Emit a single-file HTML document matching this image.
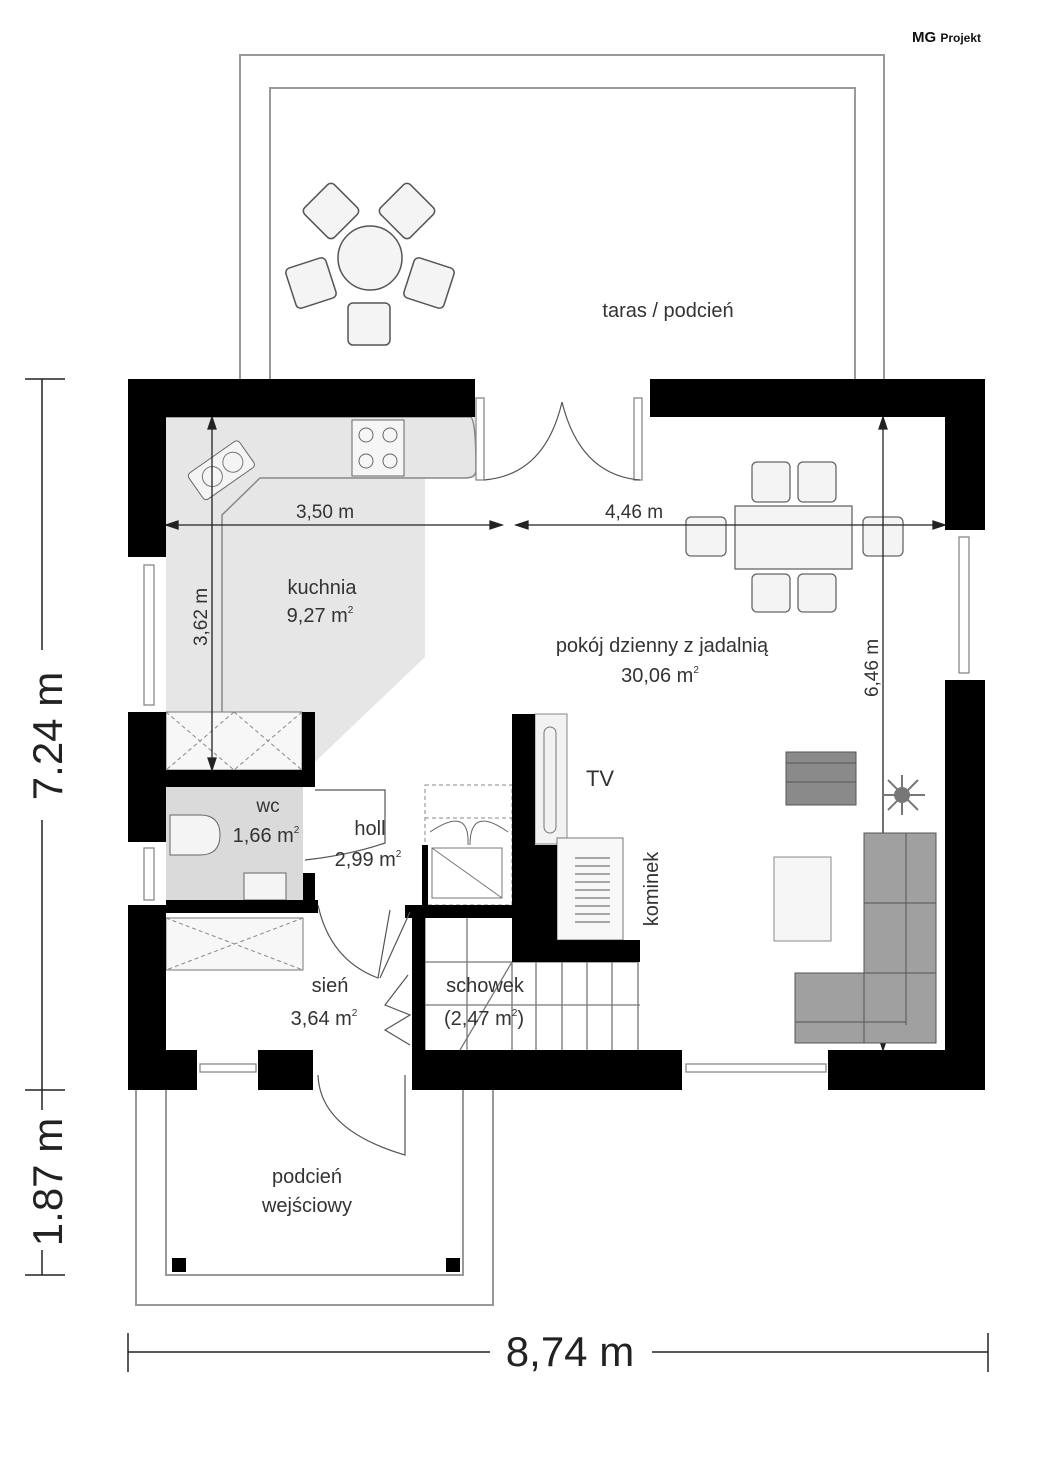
<!DOCTYPE html>
<html><head><meta charset="utf-8"><style>
body{margin:0;background:#fff}
svg{display:block}
text{font-family:"Liberation Sans",sans-serif;fill:#333}
</style></head><body>
<svg width="1050" height="1465" viewBox="0 0 1050 1465" xmlns="http://www.w3.org/2000/svg">
<text x="912" y="42" font-size="15" style="fill:#111" font-weight="bold">MG <tspan font-size="12">Projekt</tspan></text>
<g fill="none" stroke="#999" stroke-width="2">
<path d="M240 379 V55 H884 V379"/>
<path d="M270 379 V88 H855 V379"/>
<path d="M136 1090 V1305 H493 V1090"/>
<path d="M166 1090 V1275 H463 V1090"/>
</g>
<rect x="172" y="1258" width="14" height="14" fill="#000"/>
<rect x="446" y="1258" width="14" height="14" fill="#000"/>
<text x="668" y="317" font-size="20" text-anchor="middle">taras / podcień</text>
<g fill="#f4f4f4" stroke="#555" stroke-width="1.5">
<circle cx="370" cy="258" r="32"/>
<rect x="348" y="303" width="42" height="42" rx="5"/>
<rect x="290" y="262" width="42" height="42" rx="5" transform="rotate(-18 311 283)"/>
<rect x="408" y="262" width="42" height="42" rx="5" transform="rotate(18 429 283)"/>
<rect x="310" y="190" width="42" height="42" rx="5" transform="rotate(45 331 211)"/>
<rect x="386" y="190" width="42" height="42" rx="5" transform="rotate(-45 407 211)"/>
</g>
<polygon points="166,417 475,417 475,478 425,478 425,657 315,762 315,770 166,770" fill="#e6e6e6"/>
<path d="M166 417 H470 Q476 417 476 470 Q476 478 465 478 H260 L222 515 V770" fill="none" stroke="#888" stroke-width="1.5"/>
<rect x="352" y="420" width="52" height="56" fill="#f6f6f6" stroke="#666"/>
<g fill="none" stroke="#666"><circle cx="366" cy="435" r="7"/><circle cx="390" cy="435" r="7"/><circle cx="366" cy="461" r="7"/><circle cx="390" cy="461" r="7"/></g>
<g transform="rotate(-35 220 470)"><rect x="190" y="455" width="62" height="32" rx="4" fill="#f4f4f4" stroke="#666"/><circle cx="210" cy="471" r="10" fill="none" stroke="#777"/><circle cx="235" cy="471" r="10" fill="none" stroke="#777"/></g>
<rect x="166" y="787" width="137" height="113" fill="#dadada"/>
<path d="M170 815 H200 Q220 815 220 835 Q220 855 200 855 H170 Z" fill="#f4f4f4" stroke="#666"/>
<rect x="244" y="873" width="42" height="27" fill="#f4f4f4" stroke="#666"/>
<g fill="#f7f7f7" stroke="#777"><rect x="166" y="712" width="136" height="58"/><rect x="166" y="918" width="137" height="52"/></g>
<g stroke="#888" stroke-dasharray="4 3" fill="none">
<path d="M166 712 L234 770 M234 712 L166 770 M234 712 L302 770 M302 712 L234 770"/>
<path d="M166 918 L303 970 M303 918 L166 970"/>
<path d="M425 785 H512 V905 H425 Z M425 818 H512"/>
</g>
<rect x="432" y="848" width="70" height="50" fill="none" stroke="#777"/>
<path d="M432 848 L502 898" stroke="#777"/>
<path d="M430 832 Q470 805 468 845 M508 832 Q470 805 470 845" fill="none" stroke="#666"/>
<g fill="none" stroke="#777" stroke-width="1.3">
<path d="M425 918 V1050 M425 962 H512 M425 1005 H640 M467 918 V1050 M512 962 H638 V1050"/>
<path d="M536 962 V1050 M562 962 V1050 M587 962 V1050 M612 962 V1050 M512 962 V1050"/>
<path d="M512 962 L460 1050"/>
</g>
<!-- dining -->
<g fill="#f4f4f4" stroke="#666" stroke-width="1.3">
<rect x="735" y="506" width="117" height="63"/>
<rect x="752" y="462" width="38" height="40" rx="5"/>
<rect x="798" y="462" width="38" height="40" rx="5"/>
<rect x="752" y="574" width="38" height="38" rx="5"/>
<rect x="798" y="574" width="38" height="38" rx="5"/>
<rect x="686" y="517" width="40" height="39" rx="5"/>
<rect x="863" y="517" width="40" height="39" rx="5"/>
</g>
<g stroke="#222" stroke-width="1.3" fill="#222">
<line x1="166" y1="525" x2="502" y2="525"/><line x1="516" y1="525" x2="945" y2="525"/>
<polygon points="166,525 178,521 178,529"/><polygon points="502,525 490,521 490,529"/>
<polygon points="516,525 528,521 528,529"/><polygon points="945,525 933,521 933,529"/>
<line x1="212" y1="417" x2="212" y2="770"/>
<polygon points="212,417 208,429 216,429"/><polygon points="212,770 208,758 216,758"/>
<line x1="883" y1="417" x2="883" y2="1050"/>
<polygon points="883,417 879,429 887,429"/><polygon points="883,1050 879,1038 887,1038"/>
</g>
<text x="325" y="518" font-size="19" text-anchor="middle">3,50 m</text>
<text x="634" y="518" font-size="19" text-anchor="middle">4,46 m</text>
<text transform="translate(207 617) rotate(-90)" font-size="19" text-anchor="middle">3,62 m</text>
<text transform="translate(878 668) rotate(-90)" font-size="19" text-anchor="middle">6,46 m</text>
<text x="662" y="652" font-size="20" text-anchor="middle">pokój dzienny z jadalnią</text>
<text x="660" y="682" font-size="20" text-anchor="middle">30,06 m<tspan font-size="10" dy="-9">2</tspan></text>
<rect x="786" y="752" width="70" height="53" fill="#8a8a8a" stroke="#555"/>
<line x1="786" y1="763" x2="856" y2="763" stroke="#555"/><line x1="786" y1="782" x2="856" y2="782" stroke="#555"/>
<rect x="774" y="857" width="57" height="84" fill="#f6f6f6" stroke="#888"/>
<path d="M864 833 H936 V1043 H795 V973 H864 Z" fill="#a0a0a0" stroke="#555"/>
<g stroke="#555" fill="none"><path d="M864 1043 V833 M906 833 V1025 M864 903 H936 M864 973 H936 M795 1022 H906"/></g>
<g stroke="#777" stroke-width="2"><path d="M882 795 H925 M902 775 V815 M888 780 L918 810 M918 780 L888 810"/></g>
<circle cx="902" cy="795" r="8" fill="#777"/>
<text x="600" y="786" font-size="22" text-anchor="middle">TV</text>
<rect x="535" y="714" width="32" height="130" fill="#f2f2f2" stroke="#888"/>
<rect x="544" y="727" width="12" height="106" rx="6" fill="none" stroke="#777"/>
<rect x="557" y="838" width="66" height="102" fill="#f8f8f8" stroke="#777"/>
<g stroke="#555"><path d="M575 858H610M575 866H610M575 874H610M575 882H610M575 890H610M575 898H610M575 906H610M575 914H610M575 922H610"/></g>
<text transform="translate(658 889) rotate(-90)" font-size="20" text-anchor="middle">kominek</text>
<g fill="#000">
<rect x="128" y="379" width="347" height="38"/><rect x="128" y="379" width="38" height="178"/>
<rect x="650" y="379" width="335" height="38"/><rect x="945" y="379" width="40" height="151"/>
<rect x="945" y="680" width="40" height="410"/><rect x="828" y="1050" width="157" height="40"/>
<rect x="412" y="1050" width="270" height="40"/>
<rect x="128" y="712" width="38" height="130"/><rect x="128" y="905" width="38" height="185"/>
<rect x="128" y="1050" width="69" height="40"/><rect x="258" y="1050" width="55" height="40"/>
<rect x="166" y="770" width="149" height="17"/><rect x="302" y="712" width="13" height="75"/>
<rect x="166" y="900" width="152" height="13"/><rect x="303" y="873" width="12" height="40"/>
<rect x="405" y="905" width="107" height="13"/><rect x="412" y="905" width="13" height="150"/>
<rect x="422" y="845" width="6" height="60"/>
<rect x="512" y="714" width="23" height="248"/><rect x="535" y="845" width="22" height="117"/>
<rect x="512" y="940" width="128" height="22"/>
</g>
<g fill="#fff" stroke="#888" stroke-width="1.3">
<rect x="144" y="565" width="10" height="140"/><rect x="144" y="848" width="10" height="52"/>
<rect x="959" y="537" width="10" height="136"/>
<rect x="200" y="1064" width="56" height="8"/><rect x="686" y="1064" width="140" height="8"/>
<rect x="476" y="398" width="8" height="82"/><rect x="634" y="398" width="8" height="82"/>
</g>
<g fill="none" stroke="#555" stroke-width="1.2">
<path d="M484 480 Q545 475 562 402 Q580 475 640 480"/>
<path d="M318 905 Q330 960 378 978 L390 910 M305 860 Q350 855 385 843 L385 790 H315"/>
<path d="M410 912 L380 978 M408 975 L385 1005 L410 1015 L385 1030 L410 1045"/>
<path d="M318 1075 Q320 1130 405 1155 V1075"/>
</g>
<text x="322" y="594" font-size="20" text-anchor="middle">kuchnia</text>
<text x="320" y="622" font-size="20" text-anchor="middle">9,27 m<tspan font-size="10" dy="-9">2</tspan></text>
<text x="268" y="812" font-size="19" text-anchor="middle">wc</text>
<text x="266" y="842" font-size="20" text-anchor="middle">1,66 m<tspan font-size="10" dy="-9">2</tspan></text>
<text x="370" y="835" font-size="20" text-anchor="middle">holl</text>
<text x="368" y="866" font-size="20" text-anchor="middle">2,99 m<tspan font-size="10" dy="-9">2</tspan></text>
<text x="330" y="992" font-size="20" text-anchor="middle">sień</text>
<text x="324" y="1025" font-size="20" text-anchor="middle">3,64 m<tspan font-size="10" dy="-9">2</tspan></text>
<text x="485" y="992" font-size="20" text-anchor="middle">schowek</text>
<text x="484" y="1025" font-size="20" text-anchor="middle">(2,47 m<tspan font-size="10" dy="-9">2</tspan><tspan dy="9">)</tspan></text>
<text x="307" y="1183" font-size="20" text-anchor="middle">podcień</text>
<text x="307" y="1212" font-size="20" text-anchor="middle">wejściowy</text>
<g stroke="#222" stroke-width="1.5">
<line x1="42" y1="379" x2="42" y2="650"/><line x1="42" y1="820" x2="42" y2="1110"/><line x1="42" y1="1250" x2="42" y2="1275"/>
<line x1="25" y1="379" x2="65" y2="379"/><line x1="25" y1="1090" x2="65" y2="1090"/><line x1="25" y1="1275" x2="65" y2="1275"/>
<line x1="128" y1="1352" x2="490" y2="1352"/><line x1="652" y1="1352" x2="988" y2="1352"/>
<line x1="128" y1="1333" x2="128" y2="1372"/><line x1="988" y1="1333" x2="988" y2="1372"/>
</g>
<text transform="translate(62 736) rotate(-90)" font-size="42" text-anchor="middle" style="fill:#222">7.24 m</text>
<text transform="translate(62 1182) rotate(-90)" font-size="42" text-anchor="middle" style="fill:#222">1.87 m</text>
<text x="570" y="1366" font-size="42" text-anchor="middle" style="fill:#222">8,74 m</text>
</svg>
</body></html>
